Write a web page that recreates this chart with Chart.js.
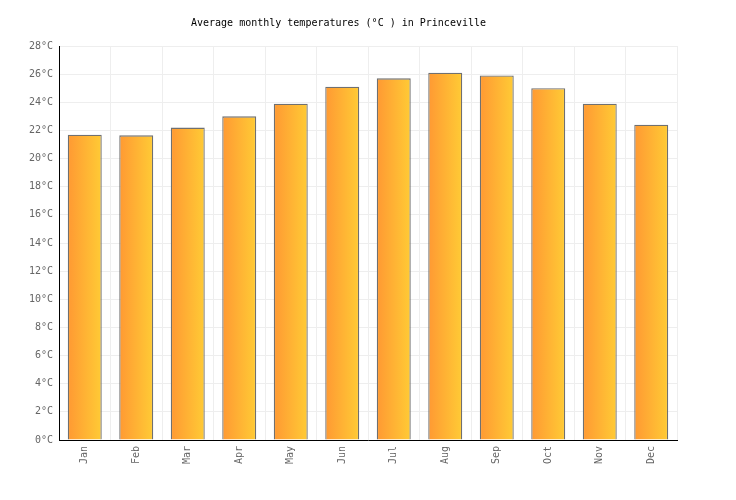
<!DOCTYPE html>
<html>
<head>
<meta charset="utf-8">
<script src="https://cdn.jsdelivr.net/npm/chart.js@4"></script>
<style>
    html, body { margin: 0; padding: 0; background: #fff; }
    #wrap { width: 736px; height: 500px; }
</style>
</head>
<body>
<div id="wrap"><canvas id="tempChart"></canvas></div>
<script>
const months = ['Jan', 'Feb', 'Mar', 'Apr', 'May', 'Jun', 'Jul', 'Aug', 'Sep', 'Oct', 'Nov', 'Dec'];
const avgTemps = [21.7, 21.65, 22.2, 23.0, 23.9, 25.1, 25.7, 26.1, 25.9, 25.0, 23.9, 22.4];
const yMin = 0;
const yMax = 28;
const yStep = 2;

const barShare = 0.66;

// horizontal orange -> yellow gradient per bar
function barGradient(context) {
    const chart = context.chart;
    if (!chart.chartArea) return '#ffb233';
    const xs = chart.scales.x;
    const center = xs.getPixelForValue(context.dataIndex);
    const half = xs.width / months.length * barShare / 2;
    const g = chart.ctx.createLinearGradient(center - half, 0, center + half, 0);
    g.addColorStop(0, '#ff9933');
    g.addColorStop(1, '#ffcb35');
    return g;
}

const ctx = document.getElementById('tempChart').getContext('2d');
const tempChart = new Chart(ctx, {
    type: 'bar',
    data: {
        labels: months,
        datasets: [{
            label: 'Temperature',
            data: avgTemps,
            backgroundColor: barGradient,
            borderColor: '#707070',
            borderWidth: 1.3,
            borderSkipped: 'bottom',
            categoryPercentage: 1.0,
            barPercentage: barShare
        }]
    },
    options: {
        responsive: true,
        maintainAspectRatio: false,
        animation: false,
        layout: {
            padding: { top: 4, right: 59, bottom: 0, left: 0 }
        },
        plugins: {
            legend: { display: false },
            tooltip: { enabled: false },
            title: {
                display: true,
                text: 'Average monthly temperatures (°C ) in Princeville',
                color: '#000',
                font: { family: 'DejaVu Sans Mono', size: 10, weight: 'normal' },
                padding: { top: 13, bottom: 17 }
            }
        },
        scales: {
            x: {
                grid: { color: '#eeeeee', offset: true, tickLength: 0 },
                border: { color: '#000', width: 1 },
                ticks: {
                    color: '#666',
                    font: { family: 'DejaVu Sans Mono', size: 10 },
                    maxRotation: 90,
                    minRotation: 90,
                    padding: 6
                },
                afterFit: function(scale) { scale.height = 60; }
            },
            y: {
                min: yMin,
                max: yMax,
                grid: { color: '#eeeeee', tickLength: 0 },
                border: { color: '#000', width: 1 },
                ticks: {
                    stepSize: yStep,
                    color: '#666',
                    font: { family: 'DejaVu Sans Mono', size: 10 },
                    padding: 6,
                    callback: function(value) { return value + '°C'; }
                },
                afterFit: function(scale) { scale.width = 59; }
            }
        }
    }
});
</script>
</body>
</html>
